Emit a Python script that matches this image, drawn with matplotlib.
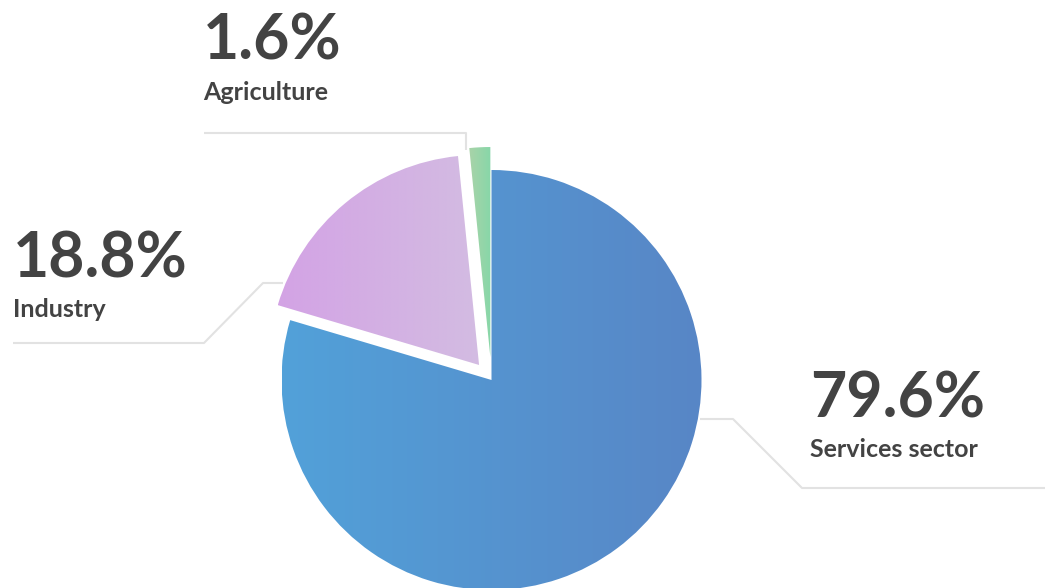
import numpy as np
import matplotlib
matplotlib.use("Agg")
import matplotlib.pyplot as plt
from matplotlib.colors import LinearSegmentedColormap

# GDP share by sector
sectors = ["Services sector", "Industry", "Agriculture"]
shares = [79.6, 18.8, 1.6]

# horizontal gradient (left colour, right colour) for each slice
gradients = [("#52a1d9", "#5886c6"), ("#d3a3e5", "#d3bce2"), ("#a9d3a8", "#87d7a9")]

W, H = 1045, 588
TEXT = "#434343"
LINE = "#e2e2e2"

fig = plt.figure(figsize=(W / 100, H / 100), dpi=100)
ax = fig.add_axes([0, 0, 1, 1])

# explode distances are in data units (pixels here)
wedges, _ = ax.pie(shares, startangle=90, counterclock=False,
                   explode=[0, 19.5, 23], radius=210, center=(491.5, 208),
                   frame=True, wedgeprops=dict(linewidth=0))

# fill each wedge with its own left-to-right gradient
ramp = np.linspace(0, 1, 256).reshape(1, -1)
for w, (c0, c1) in zip(wedges, gradients):
    w.set_facecolor("none")
    bb = w.get_path().get_extents(w.get_patch_transform())
    cmap = LinearSegmentedColormap.from_list("g", [c0, c1])
    im = ax.imshow(ramp, cmap=cmap, aspect="auto", interpolation="bilinear",
                   extent=[bb.x0, bb.x1, bb.y0, bb.y1], zorder=1)
    im.set_clip_path(w)

ax.set_xlim(0, W)
ax.set_ylim(0, H)
ax.set_aspect("auto")
ax.axis("off")

# leader lines (screen y measured from top)
def leader(xs, ys):
    ax.plot(xs, [H - y for y in ys], color=LINE, lw=1.5, solid_capstyle="butt", zorder=0)

leader([466, 466, 204], [150, 133, 133])
leader([283, 263, 204, 13], [283, 283, 343, 343])
leader([700, 733, 802, W], [419, 419, 488, 488])

labels = [
    (810, 417, 457),  # services
    (13, 277, 317),   # industry
    (203, 60, 100),   # agriculture
]
for (x, yb, ys), name, val in zip(labels, sectors, shares):
    ax.text(x, H - yb, f"{val}%", fontsize=45, fontweight="bold", family="Lato",
            color=TEXT, ha="left", va="baseline")
    ax.text(x, H - ys, name, fontsize=18, fontweight="bold", family="Lato",
            color=TEXT, ha="left", va="baseline")

fig.savefig("out.png", dpi=100, facecolor="white")
